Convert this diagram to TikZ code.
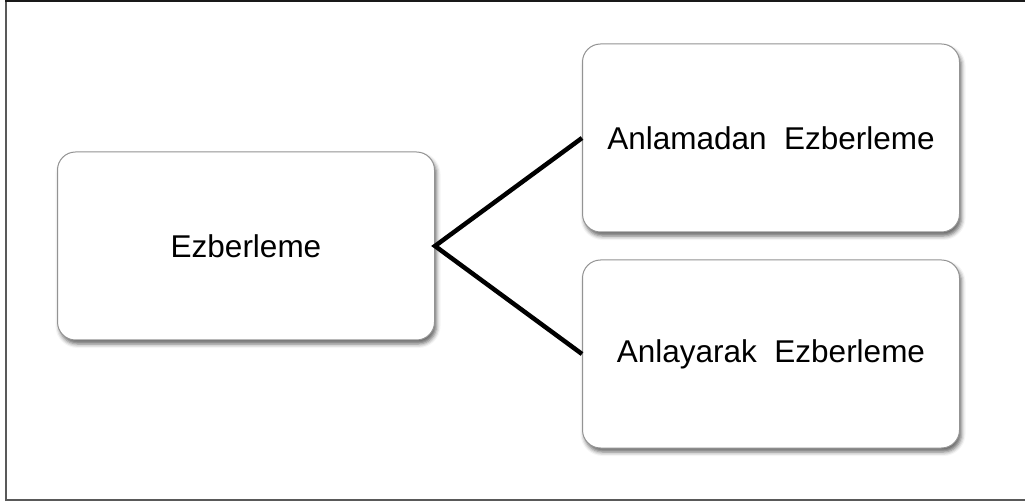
\documentclass[tikz,border=0pt]{standalone}
\usepackage{fontspec}
\setmainfont{Liberation Sans}
\usetikzlibrary{shadows.blur}
\begin{document}
\begin{tikzpicture}[x=1pt,y=-1pt,
  box/.style={draw=gray!85, line width=1pt, fill=white, rounded corners=18pt,
    minimum width=377pt, minimum height=188pt, inner sep=0pt,
    font=\fontsize{31.5}{36}\selectfont,
    blur shadow={shadow xshift=2pt, shadow yshift=-4pt, shadow blur radius=4pt, shadow opacity=60}},
  link/.style={line width=4.5pt, black}]
\useasboundingbox (0,0) rectangle (1025,502);
\draw[line width=2pt, gray!70!black] (6,501) -- (6,1);
\draw[line width=2pt, black!90] (5,1) -- (1025,1);
\draw[line width=2pt, gray!70!black] (5,500) -- (1025,500);
\node[box] (ez) at (246,246) {Ezberleme};
\node[box] (an) at (771,138) {Anlamadan~~Ezberleme};
\node[box] (ay) at (771,354) {Anlayarak~~Ezberleme};
\draw[link, line join=miter] (an.west) -- (ez.east) -- (ay.west);
\end{tikzpicture}
\end{document}
